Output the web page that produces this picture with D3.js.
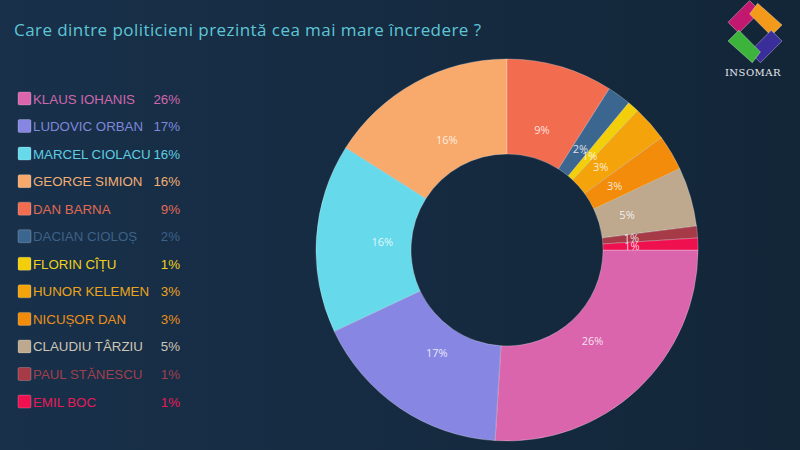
<!DOCTYPE html>
<html>
<head>
<meta charset="utf-8">
<script src="https://cdn.jsdelivr.net/npm/d3@7"></script>
<style>
  html, body { margin: 0; padding: 0; background: #152a3c; }
  svg { display: block; }
</style>
</head>
<body>
<svg id="chart" width="800" height="450"></svg>
<script>
const names = ["KLAUS IOHANIS", "LUDOVIC ORBAN", "MARCEL CIOLACU", "GEORGE SIMION", "DAN BARNA",
  "DACIAN CIOLOȘ", "FLORIN CÎȚU", "HUNOR KELEMEN", "NICUȘOR DAN", "CLAUDIU TÂRZIU",
  "PAUL STĂNESCU", "EMIL BOC"];
const values = [26, 17, 16, 16, 9, 2, 1, 3, 3, 5, 1, 1];
const colors = ["#da65ad", "#8787e3", "#66d9ea", "#f8aa6c", "#f26c4f", "#3a6690",
  "#f2cf0a", "#f5a30a", "#f28c0a", "#bea98f", "#a63a46", "#ef1050"];
const textColors = ["#cf68ad", "#7f88db", "#5fcde0", "#f2ae74", "#e06a55", "#3d6288",
  "#f0d21c", "#eca41c", "#ec9018", "#cfc6b6", "#a0404e", "#e61a58"];
const title = "Care dintre politicieni prezintă cea mai mare încredere ?";

const width = 800, height = 450;
const svg = d3.select("#chart");

// background
const defs = svg.append("defs");
const bg = defs.append("linearGradient").attr("id", "bg").attr("x1", 0).attr("x2", 1).attr("y1", 0).attr("y2", 0);
bg.append("stop").attr("offset", "0%").attr("stop-color", "#18304a");
bg.append("stop").attr("offset", "100%").attr("stop-color", "#132638");
svg.append("rect").attr("width", width).attr("height", height).attr("fill", "url(#bg)");

svg.append("text")
  .attr("x", 14)
  .attr("y", 36)
  .attr("fill", "#5fc6d6")
  .attr("font-family", "'Open Sans', sans-serif")
  .attr("font-size", "17px")
  .attr("textLength", 467)
  .attr("lengthAdjust", "spacing")
  .text(title);

// donut
const total = d3.sum(values);
const offset = 2 * Math.PI * d3.sum(values.slice(4)) / total;
const pie = d3.pie().sort(null).value(d => d)
  .startAngle(offset).endAngle(offset + 2 * Math.PI);
const arcs = pie(values);
const outerR = 191, innerR = 96;
const arc = d3.arc().innerRadius(innerR).outerRadius(outerR);
const labelArc = d3.arc().innerRadius(125).outerRadius(125);

const g = svg.append("g").attr("transform", "translate(507,250)");
g.selectAll("path")
  .data(arcs)
  .join("path")
  .attr("d", arc)
  .attr("fill", (d, i) => colors[i])
  .attr("stroke", "rgba(255,255,255,0.45)")
  .attr("stroke-width", 0.6);

g.selectAll("text")
  .data(arcs)
  .join("text")
  .attr("transform", d => `translate(${labelArc.centroid(d)})`)
  .attr("text-anchor", "middle")
  .attr("dy", "0.35em")
  .attr("fill", "rgba(255,255,255,0.82)")
  .attr("font-family", "'Open Sans', sans-serif")
  .attr("font-size", "11px")
  .text(d => d.data + "%");

// legend
const legend = svg.append("g").attr("transform", "translate(18,92)");
const y = d3.scaleBand().domain(d3.range(names.length)).range([0, 27.55 * names.length]);

legend.selectAll("rect")
  .data(names)
  .join("rect")
  .attr("x", 0)
  .attr("y", (d, i) => y(i))
  .attr("width", 13)
  .attr("height", 13)
  .attr("rx", 1.5)
  .attr("fill", (d, i) => colors[i])
  .attr("stroke", "rgba(255,255,255,0.35)")
  .attr("stroke-width", 0.6);

legend.selectAll("text.name")
  .data(names)
  .join("text")
  .attr("class", "name")
  .attr("x", 15)
  .attr("y", (d, i) => y(i) + 11.5)
  .attr("fill", (d, i) => textColors[i])
  .attr("font-family", "'Liberation Sans', Arial, sans-serif")
  .attr("font-size", "13.3px")
  .text(d => d);

legend.selectAll("text.val")
  .data(values)
  .join("text")
  .attr("class", "val")
  .attr("x", 162)
  .attr("y", (d, i) => y(i) + 11.5)
  .attr("text-anchor", "end")
  .attr("fill", (d, i) => textColors[i])
  .attr("font-family", "'Liberation Sans', Arial, sans-serif")
  .attr("font-size", "13.3px")
  .text(d => d + "%");

// logo
const logo = svg.append("g").attr("transform", "translate(755,33) scale(1.35)");
const logoParts = [
  { pts: [[-20, -8], [-4, -24], [4, -16], [-12, 0]], c: "#c2186f" },
  { pts: [[2, -22], [20, -6], [12, 2], [-4, -14]], c: "#f39a1a" },
  { pts: [[20, 6], [4, 22], [-4, 14], [12, -2]], c: "#3a2f9a" },
  { pts: [[-2, 22], [-20, 6], [-12, -2], [4, 14]], c: "#3cb43c" }
];
logo.selectAll("polygon")
  .data(logoParts)
  .join("polygon")
  .attr("points", d => d.pts.map(p => p.join(",")).join(" "))
  .attr("fill", d => d.c)
  .attr("stroke", "rgba(255,255,255,0.5)")
  .attr("stroke-width", 0.5);

svg.append("text")
  .attr("x", 753)
  .attr("y", 76)
  .attr("text-anchor", "middle")
  .attr("fill", "#e8e8ee")
  .attr("font-family", "'DejaVu Serif', 'Liberation Serif', serif")
  .attr("font-size", "10px")
  .attr("letter-spacing", "0.5px")
  .text("INSOMAR");
</script>
</body>
</html>
